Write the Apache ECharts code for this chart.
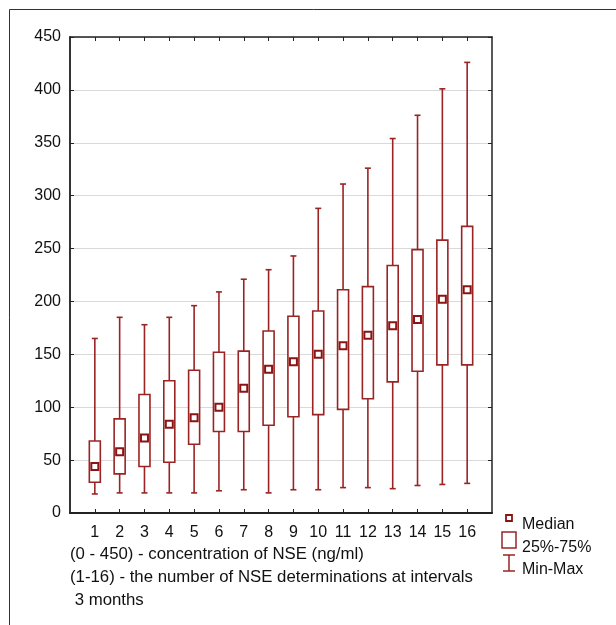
<!DOCTYPE html>
<html>
<head>
<meta charset="utf-8">
<script src="https://cdn.jsdelivr.net/npm/echarts@6/dist/echarts.min.js"></script>
<style>html,body{margin:0;padding:0;background:#fff;}#c{width:616px;height:625px;}</style>
</head>
<body>
<div id="c"></div>
<script>
// ---- data ----
const categories = [1, 2, 3, 4, 5, 6, 7, 8, 9, 10, 11, 12, 13, 14, 15, 16];
const minValues  = [18, 19, 19, 19, 19, 21, 22, 19, 22, 22, 24, 24, 23, 26, 27, 28];
const q1Values   = [29, 37, 44, 48, 65, 77, 77, 83, 91, 93, 98, 108, 124, 134, 140, 140];
const medValues  = [44, 58, 71, 84, 90, 100, 118, 136, 143, 150, 158, 168, 177, 183, 202, 211];
const q3Values   = [68, 89, 112, 125, 135, 152, 153, 172, 186, 191, 211, 214, 234, 249, 258, 271];
const maxValues  = [165, 185, 178, 185, 196, 209, 221, 230, 243, 288, 311, 326, 354, 376, 401, 426];
const yTicks = [0, 50, 100, 150, 200, 250, 300, 350, 400, 450];
const noteLines = [
  '(0 - 450) - concentration of NSE (ng/ml)',
  '(1-16) - the number of NSE determinations at intervals',
  ' 3 months'
];
const legendLabels = ['Median', '25%-75%', 'Min-Max'];

const RED = '#9a2424';
const FONT = 'Liberation Sans, Arial, sans-serif';

const seriesData = categories.map((c, i) => [c, minValues[i], q1Values[i], medValues[i], q3Values[i], maxValues[i]]);

const chart = echarts.init(document.getElementById('c'), null, {renderer: 'canvas'});

function renderBox(params, api) {
  const x = api.value(0);
  const pMin = api.coord([x, api.value(1)]);
  const pQ1 = api.coord([x, api.value(2)]);
  const pMed = api.coord([x, api.value(3)]);
  const pQ3 = api.coord([x, api.value(4)]);
  const pMax = api.coord([x, api.value(5)]);
  const cx = pMed[0];
  const hb = 5.5, hc = 3, hm = 3.5;
  const ls = {stroke: RED, lineWidth: 1.6};
  return {
    type: 'group',
    children: [
      {type: 'line', shape: {x1: cx, y1: pMax[1], x2: cx, y2: pQ3[1]}, style: ls},
      {type: 'line', shape: {x1: cx, y1: pQ1[1], x2: cx, y2: pMin[1]}, style: ls},
      {type: 'line', shape: {x1: cx - hc, y1: pMax[1], x2: cx + hc, y2: pMax[1]}, style: ls},
      {type: 'line', shape: {x1: cx - hc, y1: pMin[1], x2: cx + hc, y2: pMin[1]}, style: ls},
      {type: 'rect', shape: {x: cx - hb, y: pQ3[1], width: hb * 2, height: pQ1[1] - pQ3[1]},
        style: {fill: '#fff', stroke: RED, lineWidth: 1.6}},
      {type: 'rect', shape: {x: cx - hm, y: pMed[1] - hm, width: hm * 2, height: hm * 2},
        style: {fill: '#fff', stroke: '#8a1414', lineWidth: 2}}
    ]
  };
}

const graphics = [
  {type: 'rect', shape: {x: 9.5, y: 9.5, width: 700, height: 700}, style: {fill: null, stroke: '#333', lineWidth: 1}, z: -10, silent: true}
];
const noteY = [554, 577, 600];
noteLines.forEach((t, i) => {
  graphics.push({type: 'text', x: 70, y: noteY[i], style: {text: t, font: '16.8px ' + FONT, fill: '#111', align: 'left', verticalAlign: 'middle'}});
});
// legend
const legY = [525, 548, 570];
legendLabels.forEach((t, i) => {
  graphics.push({type: 'text', x: 522, y: legY[i], style: {text: t, font: '16px ' + FONT, fill: '#111', align: 'left', verticalAlign: 'middle'}});
});
graphics.push({type: 'rect', shape: {x: 506, y: 515, width: 6, height: 6}, style: {fill: '#fff', stroke: '#8a1414', lineWidth: 1.8}});
graphics.push({type: 'rect', shape: {x: 502, y: 532, width: 14, height: 16}, style: {fill: '#fff', stroke: RED, lineWidth: 1.5}});
graphics.push({type: 'line', shape: {x1: 509, y1: 555, x2: 509, y2: 571}, style: {stroke: RED, lineWidth: 1.5}});
graphics.push({type: 'line', shape: {x1: 503, y1: 555, x2: 515, y2: 555}, style: {stroke: RED, lineWidth: 1.5}});
graphics.push({type: 'line', shape: {x1: 503, y1: 571, x2: 515, y2: 571}, style: {stroke: RED, lineWidth: 1.5}});

const option = {
  animation: false,
  backgroundColor: '#fff',
  grid: {left: 70, right: 124, top: 37, bottom: 112, outerBoundsMode: 'none', containLabel: false},
  xAxis: [
    {
      type: 'value', min: 0, max: 17, interval: 1, position: 'bottom',
      axisLine: {show: true, onZero: false, lineStyle: {color: '#222', width: 2}},
      axisTick: {show: true, inside: true, length: 4, customValues: categories, lineStyle: {color: '#222'}},
      axisLabel: {show: true, customValues: categories, margin: 12, fontSize: 16, fontFamily: FONT, color: '#111'},
      splitLine: {show: false}
    },
    {
      type: 'value', min: 0, max: 17, interval: 1, position: 'top',
      axisLine: {show: true, onZero: false, lineStyle: {color: '#222', width: 1.5}},
      axisTick: {show: true, inside: true, length: 4, customValues: categories, lineStyle: {color: '#222'}},
      axisLabel: {show: false},
      splitLine: {show: false}
    }
  ],
  yAxis: [
    {
      type: 'value', min: 0, max: 450, interval: 50, position: 'left',
      axisLine: {show: true, onZero: false, lineStyle: {color: '#333', width: 2}},
      axisTick: {show: true, inside: true, length: 4, lineStyle: {color: '#222'}},
      axisLabel: {show: true, margin: 9, fontSize: 16, fontFamily: FONT, color: '#111',
        customValues: yTicks},
      splitLine: {show: true, lineStyle: {color: '#d9d9d9', width: 1}}
    },
    {
      type: 'value', min: 0, max: 450, interval: 50, position: 'right',
      axisLine: {show: true, onZero: false, lineStyle: {color: '#222', width: 1.5}},
      axisTick: {show: true, inside: true, length: 4, lineStyle: {color: '#222'}},
      axisLabel: {show: false},
      splitLine: {show: false}
    }
  ],
  series: [{
    type: 'custom',
    xAxisIndex: 0, yAxisIndex: 0,
    renderItem: renderBox,
    encode: {x: 0, y: [1, 2, 3, 4, 5]},
    data: seriesData,
    z: 5
  }],
  graphic: graphics
};
chart.setOption(option);
</script>
</body>
</html>
